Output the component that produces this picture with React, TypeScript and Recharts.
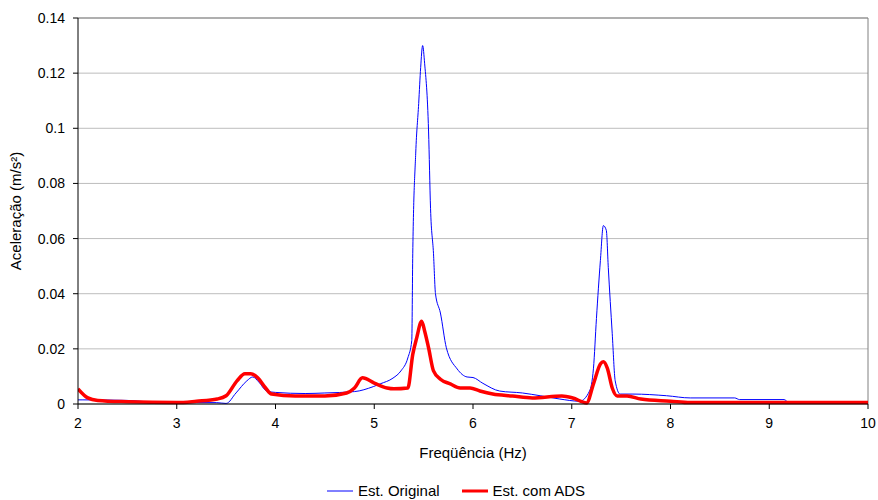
import { LineChart, Line, XAxis, YAxis, CartesianGrid, Legend, ReferenceLine } from 'recharts';

// Est. Original (blue, thin)
const origFreq = [2.0, 2.05, 2.5, 2.7, 3.0, 3.4, 3.5, 3.6, 3.71, 3.77, 3.83, 3.91, 4.0, 4.3, 4.5, 4.8, 4.99, 5.06, 5.19, 5.27, 5.34, 5.38, 5.39, 5.42, 5.45, 5.47, 5.49, 5.51, 5.55, 5.57, 5.6, 5.62, 5.67, 5.73, 5.84, 5.94, 6.0, 6.1, 6.27, 6.5, 6.68, 6.88, 7.08, 7.18, 7.22, 7.25, 7.29, 7.32, 7.35, 7.37, 7.41, 7.44, 7.49, 7.62, 7.96, 8.2, 8.65, 8.7, 9.15, 9.2, 10.0];
const origAcc = [0.0015, 0.0015, 0.0013, 0.0008, 0.0005, 0.0005, 0.0002, 0.004, 0.0084, 0.0098, 0.008, 0.0047, 0.0042, 0.0038, 0.004, 0.0045, 0.0063, 0.0073, 0.0094, 0.012, 0.0167, 0.023, 0.0545, 0.091, 0.109, 0.122, 0.130, 0.1236, 0.099, 0.071, 0.0545, 0.04, 0.033, 0.0204, 0.0127, 0.0098, 0.0096, 0.0075, 0.0047, 0.004, 0.003, 0.0018, 0.001, 0.0047, 0.013, 0.031, 0.052, 0.0647, 0.063, 0.0495, 0.0255, 0.0084, 0.0036, 0.0036, 0.003, 0.0022, 0.0022, 0.0016, 0.0016, 0.0005, 0.0005];

// Est. com ADS (red, thick)
const adsFreq = [2.0, 2.1, 2.2, 2.5, 3.0, 3.2, 3.41, 3.5, 3.61, 3.69, 3.75, 3.82, 3.9, 3.96, 4.2, 4.5, 4.72, 4.8, 4.88, 5.0, 5.13, 5.2, 5.34, 5.39, 5.43, 5.48, 5.51, 5.55, 5.6, 5.67, 5.77, 5.87, 5.97, 6.07, 6.2, 6.4, 6.6, 6.9, 7.01, 7.15, 7.22, 7.29, 7.32, 7.36, 7.41, 7.46, 7.56, 7.7, 8.0, 8.2, 10.0];
const adsAcc = [0.0055, 0.0022, 0.0013, 0.0008, 0.0005, 0.001, 0.0018, 0.003, 0.0084, 0.011, 0.011, 0.0095, 0.0058, 0.0036, 0.0029, 0.0029, 0.004, 0.0058, 0.0095, 0.0076, 0.0058, 0.0055, 0.0058, 0.018, 0.024, 0.030, 0.0265, 0.0204, 0.012, 0.009, 0.0073, 0.0058, 0.0058, 0.0047, 0.0036, 0.0029, 0.0022, 0.0029, 0.0022, 0.0004, 0.0073, 0.0145, 0.0153, 0.013, 0.0058, 0.0029, 0.0029, 0.0018, 0.001, 0.0005, 0.0005];

const xTicks = [2, 3, 4, 5, 6, 7, 8, 9, 10];
const yTicks = [0, 0.02, 0.04, 0.06, 0.08, 0.1, 0.12, 0.14];
const yTickLabels = ['0', '0.02', '0.04', '0.06', '0.08', '0.1', '0.12', '0.14'];

const origData = origFreq.map((f, i) => ({ f, v: origAcc[i] }));
const adsData = adsFreq.map((f, i) => ({ f, v: adsAcc[i] }));

const font = '"Liberation Sans", Arial, sans-serif';

function LegendBox() {
  return (
    <div style={{ display: 'flex', justifyContent: 'center', alignItems: 'center', fontFamily: font, fontSize: 15, color: '#000', paddingLeft: 44 }}>
      <svg width={26} height={10} style={{ marginRight: 5 }}>
        <line x1={0} y1={5} x2={26} y2={5} stroke="#0000FF" strokeWidth={1} />
      </svg>
      <span style={{ marginRight: 22 }}>Est. Original</span>
      <svg width={26} height={10} style={{ marginRight: 5 }}>
        <line x1={0} y1={5} x2={26} y2={5} stroke="#FF0000" strokeWidth={3} />
      </svg>
      <span>Est. com ADS</span>
    </div>
  );
}

export default function App() {
  return (
    <div style={{ width: 878, height: 500, background: '#fff' }}>
      <style>{'body{margin:0}'}</style>
      <LineChart
        width={878}
        height={500}
        margin={{ top: 18, right: 10, left: 0, bottom: 1 }}
      >
        <CartesianGrid horizontal vertical={false} stroke="#bdbdbd" />
        <ReferenceLine y={0.14} stroke="#808080" />
        <ReferenceLine x={10} stroke="#808080" />
        <XAxis
          type="number"
          dataKey="f"
          domain={[2, 10]}
          ticks={xTicks}
          allowDataOverflow
          height={78}
          stroke="#000"
          tickSize={5}
          tickMargin={9}
          tick={{ fill: '#000', fontSize: 14, fontFamily: font }}
          label={{ value: 'Freqüência (Hz)', position: 'insideTop', offset: 43, fill: '#000', fontSize: 15, fontFamily: font }}
        />
        <YAxis
          type="number"
          domain={[0, 0.14]}
          ticks={yTicks}
          width={78}
          stroke="#000"
          tickSize={5}
          tickMargin={8}
          tickFormatter={(v: number) => yTickLabels[yTicks.indexOf(v)] ?? String(v)}
          tick={{ fill: '#000', fontSize: 14, fontFamily: font }}
          label={{ value: 'Aceleração (m/s²)', angle: -90, position: 'insideLeft', offset: 16, fill: '#000', fontSize: 15, fontFamily: font, style: { textAnchor: 'middle' } }}
        />
        <Legend verticalAlign="bottom" content={<LegendBox />} />
        <Line data={origData} dataKey="v" type="monotone" stroke="#0000FF" strokeWidth={1} dot={false} isAnimationActive={false} name="Est. Original" />
        <Line data={adsData} dataKey="v" type="monotone" stroke="#FF0000" strokeWidth={3.5} dot={false} isAnimationActive={false} name="Est. com ADS" />
      </LineChart>
    </div>
  );
}
